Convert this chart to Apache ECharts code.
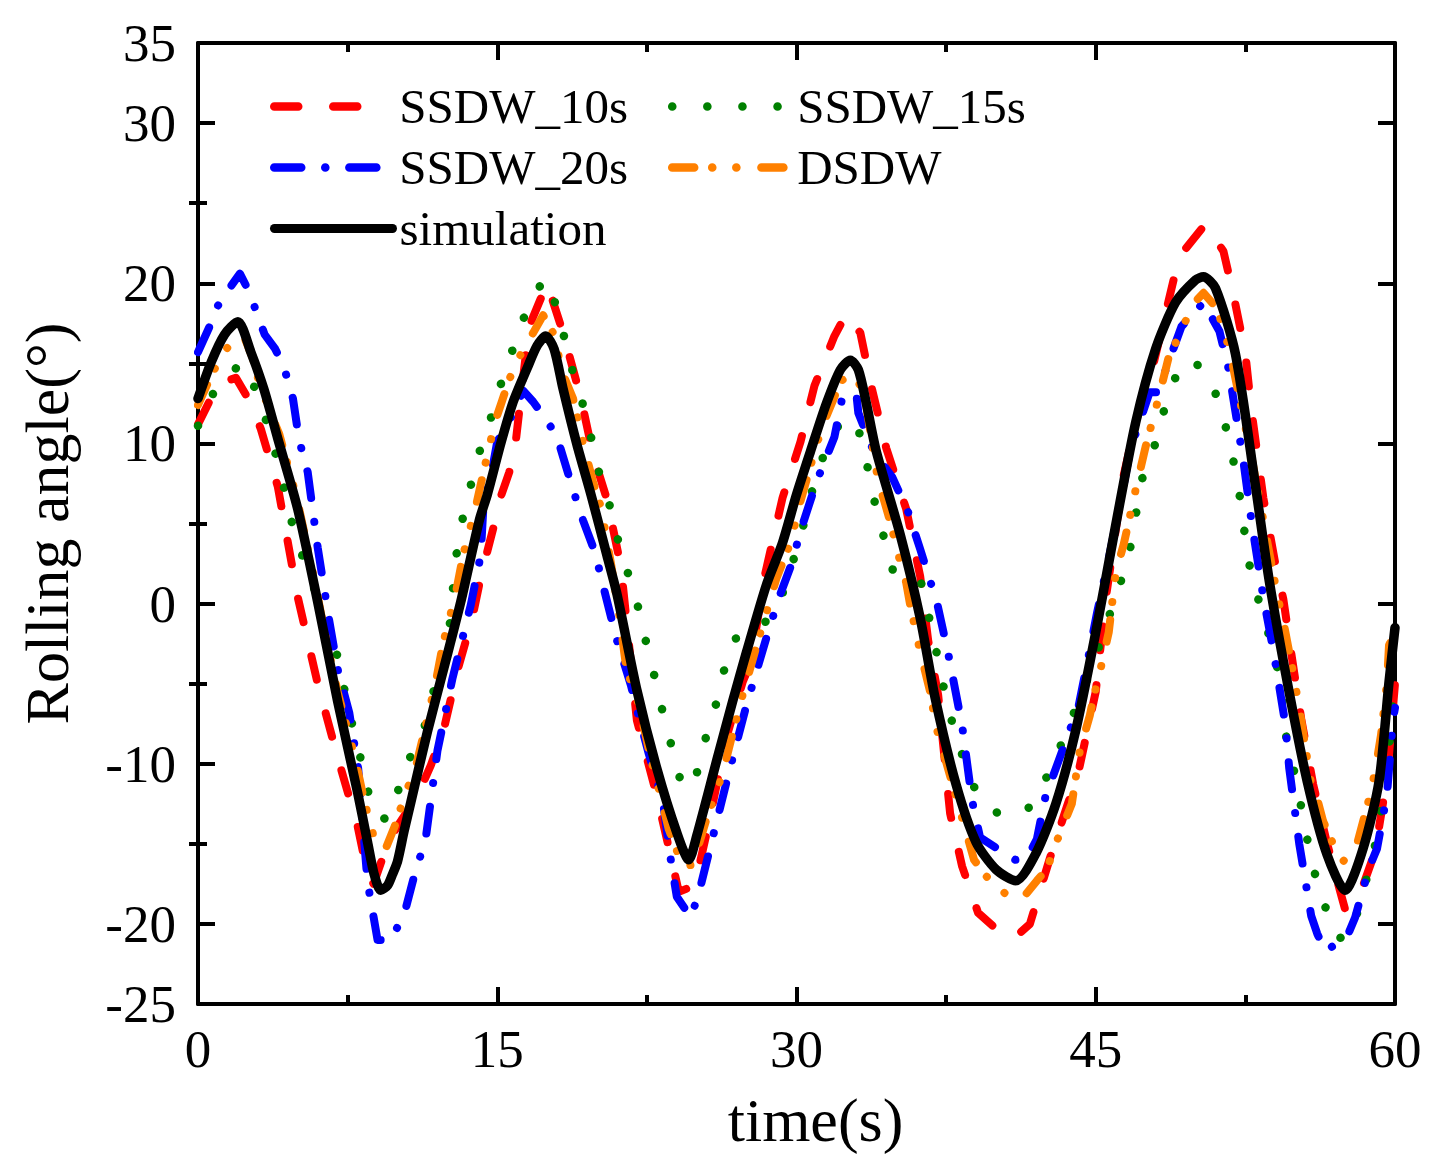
<!DOCTYPE html>
<html>
<head>
<meta charset="utf-8">
<script src="https://cdn.jsdelivr.net/npm/echarts@6/dist/echarts.min.js"></script>
<style>
html,body{margin:0;padding:0;background:#fff;}
#chart{width:1439px;height:1172px;}
</style>
</head>
<body>
<div id="chart"></div>
<script>
// ---- data (time s, rolling angle deg) ----
const xTickValues = [0, 15, 30, 45, 60];
const yLabelValues = [-25, -20, -10, 0, 10, 20, 30, 35];
const yMajorTicks = [-20, -10, 0, 10, 20, 30];
const yMinorTicks = [-15, -5, 5, 15, 25];
const seriesNames = ['SSDW_10s', 'SSDW_15s', 'SSDW_20s', 'DSDW', 'simulation'];

const ssdw10 = [[0,11.2],[0.4,12.2],[1,13.7],[1.9,14.1],[2.65,12.5],[3.15,10.9],[4,7.3],[5,0.4],[6,-5.0],[7,-9.6],[8,-13.9],[8.5,-16.9],[8.8,-17.5],[9.5,-15.0],[10,-13.9],[11,-12.0],[11.67,-10.1],[12.33,-7.8],[13,-4.2],[13.75,-0.9],[14.2,1.8],[14.8,4.7],[15.1,6.4],[15.6,8.2],[15.9,9.8],[16.2,13.1],[16.6,17.3],[17.5,20.0],[18.3,16.9],[19.2,12.8],[19.8,9.3],[20.5,6.5],[21.2,2.3],[22,-7.3],[23,-12.0],[23.85,-16.6],[24.1,-18.0],[24.9,-17.6],[25.5,-14.3],[26.5,-8.3],[27.3,-4.9],[27.7,-3.7],[28.4,1.7],[29.3,6.6],[30.2,10.1],[30.9,13.6],[31.9,16.7],[32.5,18.1],[33.2,16.9],[33.8,13.3],[34.5,9.7],[35.5,5.9],[36.2,1.7],[36.6,-2.3],[37.1,-5.7],[37.7,-13.1],[38.3,-16.4],[39.1,-19.3],[40,-20.3],[40.9,-20.9],[41.7,-20.0],[42.7,-15.9],[43.6,-12.5],[44.1,-10.7],[45,-5.5],[45.5,0.3],[46.4,8.0],[47,11.3],[47.9,15.0],[48.9,20.2],[49.4,22.0],[50.5,23.7],[51.4,22.0],[51.9,19.3],[52.5,15.6],[52.8,12.1],[53.4,6.6],[54,2.5],[54.4,0.3],[54.8,-3.1],[55.3,-7.2],[55.9,-11.3],[56.6,-15.0],[57.5,-19.1],[58.2,-18.3],[59,-15.5],[59.6,-10.9],[60,-5.0]];

const ssdw15 = [[0,11.1],[0.65,12.9],[1.4,14.3],[2.3,15.0],[2.9,13.3],[3.45,11.3],[3.9,9.3],[4.3,7.3],[4.7,5.1],[5.2,3.1],[6.24,-0.5],[6.9,-2.8],[7.58,-6.8],[8,-8.9],[8.41,-11.0],[8.75,-13.1],[9.5,-13.5],[10.08,-11.5],[10.5,-9.9],[11.25,-8.2],[11.7,-6.0],[12.6,-1.6],[12.9,2.6],[13.17,4.8],[13.6,7.0],[14,9.1],[14.6,11.2],[15,13.1],[15.6,15.1],[16,16.9],[16.6,18.6],[17.35,20.3],[18,18.5],[18.4,16.4],[18.8,14.4],[19.3,12.4],[19.7,10.4],[20.1,8.2],[20.6,6.3],[21,4.2],[21.5,2.1],[22,0.1],[22.4,-2.1],[22.8,-4.1],[23.2,-6.3],[23.9,-9.7],[24.3,-11.6],[25,-10.6],[25.4,-8.6],[25.9,-6.6],[26.3,-4.6],[26.6,-2.7],[27.3,-1.7],[28.3,-1.3],[29,-0.5],[30.1,3.7],[30.9,7.6],[31.4,9.4],[32,11.0],[32.9,11.6],[33.4,9.7],[33.7,7.5],[34.1,5.4],[34.5,3.6],[35,1.3],[35.6,0.6],[36.1,2.1],[36.5,-0.1],[36.9,-2.2],[37.2,-4.3],[37.6,-6.4],[38,-8.4],[39.1,-12.1],[40.2,-13.2],[41.5,-13.0],[42.3,-11.5],[42.9,-9.8],[43.6,-7.9],[44.2,-5.8],[44.7,-4.4],[46.5,2.3],[46.9,4.4],[47.2,7.4],[47.9,9.6],[48.3,11.6],[49.1,14.5],[49.7,15.3],[50.6,14.4],[51.2,12.5],[51.65,10.4],[52,8.3],[52.3,6.1],[52.5,4.0],[52.8,1.7],[53.07,0.6],[54,-3.3],[54.3,-5.5],[54.6,-8.9],[55.1,-11.2],[55.4,-13.5],[55.9,-16.5],[56.4,-18.6],[57.1,-20.8],[57.6,-21.0],[58.2,-19.0],[59.1,-14.6],[59.6,-10.3],[59.9,-6.1],[60,-5.5]];

const ssdw20 = [[0,15.7],[0.58,17.3],[0.8,18.2],[1.3,19.2],[2.1,20.6],[2.55,19.5],[3.34,16.8],[3.87,15.9],[4.3,14.8],[4.76,12.8],[5.07,10.2],[5.5,8.2],[6,3.5],[6.57,-1.0],[7,-4.1],[7.58,-6.8],[8.03,-10.3],[8.5,-17.4],[9,-21.0],[9.7,-21.0],[10.4,-19.1],[10.9,-16.7],[11.4,-14.8],[12,-9.2],[12.75,-4.7],[13.67,-0.1],[14.17,3.0],[14.3,5.9],[14.75,8.4],[15,10.1],[15.6,11.4],[16.3,13.3],[16.8,12.6],[17.5,11.4],[18,10.4],[18.8,7.1],[19.3,5.2],[19.9,3.2],[20.35,0.9],[21,-2.3],[21.7,-5.1],[22,-6.6],[22.6,-9.4],[23.3,-12.3],[23.7,-16.0],[24,-18.3],[24.7,-19.6],[25.1,-18.1],[25.7,-15.1],[26.6,-10.6],[27.5,-6.3],[28.5,-2.1],[29.1,0.3],[29.7,2.3],[30.3,4.9],[31,7.6],[31.9,10.4],[32.3,12.9],[33,13.1],[33.1,11.9],[33.9,9.4],[34.8,7.9],[35.6,5.7],[36.2,3.4],[36.7,1.4],[37,0.3],[37.6,-3.1],[38.3,-7.6],[38.8,-12.3],[39.2,-14.6],[40.2,-15.4],[40.97,-16.0],[41.55,-15.9],[42.05,-14.7],[42.47,-12.1],[44.14,-6.4],[44.56,-3.8],[45.06,-0.6],[45.65,2.8],[46.4,7.4],[46.73,9.6],[47.7,13.2],[48.1,13.2],[49.3,17.3],[50.4,18.8],[51.2,17.0],[51.65,14.7],[52.4,8.9],[52.8,5.2],[53.4,0.4],[53.9,-2.9],[54.5,-7.5],[54.7,-10.3],[55.2,-15.0],[55.8,-19.5],[56.1,-20.6],[56.5,-21.7],[57.6,-20.8],[58,-19.6],[58.7,-16.5],[59.1,-15.3],[59.6,-11.9],[59.9,-7.2],[60,-6.5]];

const dsdw = [[0,12.4],[0.65,14.2],[1.1,15.3],[1.6,16.2],[2.3,16.7],[2.75,15.3],[3,14.1],[3.6,12.0],[4.07,10.6],[4.99,6.4],[5.9,1.1],[6.3,-1.5],[7,-5.5],[7.9,-9.8],[8.33,-12.3],[8.9,-15.0],[9.41,-15.3],[9.86,-13.9],[10.5,-11.5],[10.8,-10.8],[11.4,-7.7],[11.9,-5.0],[12.3,-2.4],[12.9,0.5],[13.3,3.1],[13.9,5.9],[14.4,8.7],[14.9,11.4],[15.2,12.5],[15.6,14.0],[16.3,15.9],[16.8,16.9],[17.3,18.0],[17.8,16.9],[18.3,14.3],[18.8,12.8],[19.3,10.0],[19.8,7.6],[20.2,6.0],[20.7,2.5],[21.1,-0.6],[21.5,-4.3],[21.9,-5.4],[22.2,-6.9],[22.7,-9.7],[23,-11.1],[23.6,-14.1],[24.3,-16.4],[24.8,-16.3],[25.5,-13.4],[26.3,-10.6],[26.7,-8.6],[27.3,-5.7],[28.1,-2.2],[29,1.6],[29.7,3.8],[30.2,6.4],[30.5,7.7],[31,9.9],[31.4,11.4],[31.9,12.9],[32.2,13.9],[32.9,14.3],[33.4,13.1],[34.1,7.6],[34.4,6.4],[34.7,5.1],[35.2,2.6],[35.5,1.3],[35.7,-0.1],[36.2,-3.0],[36.7,-5.5],[37,-7.7],[38.9,-16.0],[39.5,-17.0],[40,-17.7],[40.7,-18.3],[41.4,-18.3],[42.05,-17.3],[42.6,-16.5],[42.8,-15.6],[43.8,-12.5],[44.2,-9.2],[44.7,-7.0],[44.9,-5.8],[45.2,-4.3],[45.65,-1.8],[46,1.9],[46.4,3.7],[46.6,4.8],[47.05,7.4],[47.5,9.8],[48.1,12.6],[48.7,15.6],[49.1,16.5],[49.7,18.2],[50.1,19.0],[50.4,19.4],[51.1,18.4],[51.4,17.1],[51.7,15.9],[52.8,9.2],[54.1,0.5],[54.4,-1.1],[54.8,-3.7],[55.2,-6.5],[55.8,-11.3],[56.1,-12.2],[56.4,-13.6],[57,-15.3],[57.4,-16.1],[58.1,-15.0],[58.7,-12.2],[59,-10.5],[59.3,-8.2],[59.6,-4.9],[59.7,-2.6],[60,-1.8]];

const simulation = [[0,12.8],[0.67,15.1],[1.33,16.8],[2,17.6],[2.65,15.7],[3.3,13.4],[4,10.3],[5,5.9],[6,0.1],[7,-6.1],[8,-11.8],[8.5,-14.9],[8.83,-16.9],[9.16,-17.9],[9.5,-17.6],[9.75,-16.9],[10,-16.1],[10.33,-14.2],[10.67,-12.4],[11.5,-8.0],[12.33,-4.0],[13.17,0.1],[14.1,5.2],[14.5,6.8],[15.2,10.1],[15.8,12.6],[16.5,14.7],[17,16.1],[17.43,16.7],[17.85,15.9],[18.3,13.4],[19,9.9],[19.7,6.8],[20.5,3.0],[21,0.6],[22,-5.4],[23,-10.3],[24,-14.3],[24.6,-16.0],[25,-14.5],[26,-9.8],[26.8,-6.1],[27.5,-3.0],[28.5,1.2],[29.3,3.8],[30,6.8],[30.7,9.5],[31.5,12.5],[32.2,14.6],[32.7,15.2],[33.1,14.6],[33.5,12.5],[34,9.5],[35.2,4.3],[36.2,-0.9],[36.95,-5.9],[38,-11.3],[39,-14.9],[40,-16.6],[41,-17.3],[42,-15.6],[43,-12.5],[44,-7.9],[45,-1.8],[46,4.9],[47,11.3],[48,15.9],[49,18.8],[50,20.2],[50.4,20.4],[51,19.7],[52,15.6],[53,7.4],[53.7,1.4],[54.6,-4.9],[55.6,-11.1],[56.6,-15.7],[57.5,-17.9],[58.4,-15.3],[59.2,-11.1],[59.7,-4.9],[60,-1.5]];

// ---- styling ----
const FONT = '"Liberation Serif", "Times New Roman", Times, serif';
const AXIS_COLOR = '#000';
const lineW = 8;

const axisLineStyle = { show: true, onZero: false, lineStyle: { color: AXIS_COLOR, width: 4 } };
const majorTick = { show: true, inside: true, length: 17, lineStyle: { color: AXIS_COLOR, width: 4 } };
const minorTickStyle = { show: true, splitNumber: 2, length: 9, lineStyle: { color: AXIS_COLOR, width: 4 } };

function mkSeries(name, data, color, width, dash, extra) {
  return Object.assign({
    name: name,
    type: 'line',
    data: data,
    xAxisIndex: 0,
    yAxisIndex: 0,
    symbol: 'none',
    showSymbol: false,
    animation: false,
    emphasis: { disabled: true },
    itemStyle: { color: color },
    lineStyle: { color: color, width: width, type: dash, cap: 'round', join: 'round' }
  }, extra || {});
}

const legendCommon = {
  orient: 'horizontal',
  left: 270,
  padding: 0,
  itemWidth: 118,
  itemHeight: 14,
  itemGap: 40,
  selectedMode: false,
  itemStyle: { opacity: 0, color: 'rgba(0,0,0,0)', borderWidth: 0 },
  lineStyle: { width: 8.5 },
  textStyle: { fontSize: 49, fontFamily: FONT, color: '#000', padding: [0, 0, 0, 2] }
};

const chart = echarts.init(document.getElementById('chart'), null, { renderer: 'svg' });

const yBase = { type: 'value', min: -25, max: 35, interval: 5, splitLine: { show: false } };
const xBase = { type: 'value', min: 0, max: 60, interval: 15, splitLine: { show: false } };

chart.setOption({
  animation: false,
  backgroundColor: '#fff',
  grid: { left: 198, right: 44, top: 43, bottom: 168, containLabel: false },
  xAxis: [
    Object.assign({}, xBase, {
      position: 'bottom',
      axisLine: axisLineStyle,
      axisTick: majorTick,
      minorTick: minorTickStyle,
      axisLabel: { customValues: xTickValues, fontSize: 53, fontFamily: FONT, color: '#000', margin: 18 },
      name: 'time(s)',
      nameLocation: 'middle',
      nameGap: 85,
      nameTextStyle: { fontSize: 62, fontFamily: FONT, color: '#000', padding: [0, 0, 0, 38] }
    }),
    Object.assign({}, xBase, {
      position: 'top',
      axisLine: axisLineStyle,
      axisTick: majorTick,
      minorTick: minorTickStyle,
      axisLabel: { show: false }
    })
  ],
  yAxis: [
    Object.assign({}, yBase, {
      position: 'left',
      axisLine: axisLineStyle,
      axisTick: Object.assign({}, majorTick, { customValues: yMajorTicks }),
      axisLabel: { customValues: yLabelValues, fontSize: 53, fontFamily: FONT, color: '#000', margin: 22 },
      name: 'Rolling angle(°)',
      nameLocation: 'middle',
      nameGap: 120,
      nameTextStyle: { fontSize: 62, fontFamily: FONT, color: '#000' }
    }),
    Object.assign({}, yBase, {
      position: 'left',
      axisLine: { show: false },
      axisTick: { show: true, inside: true, length: 9, customValues: yMinorTicks, lineStyle: { color: AXIS_COLOR, width: 4 } },
      axisLabel: { show: false }
    }),
    Object.assign({}, yBase, {
      position: 'right',
      axisLine: axisLineStyle,
      axisTick: Object.assign({}, majorTick, { customValues: yMajorTicks }),
      axisLabel: { show: false }
    }),
    Object.assign({}, yBase, {
      position: 'right',
      axisLine: { show: false },
      axisTick: { show: true, inside: true, length: 9, customValues: yMinorTicks, lineStyle: { color: AXIS_COLOR, width: 4 } },
      axisLabel: { show: false }
    })
  ],
  legend: [
    Object.assign({}, legendCommon, { top: 82, data: [seriesNames[0], seriesNames[1]] }),
    Object.assign({}, legendCommon, { top: 143, data: [seriesNames[2], seriesNames[3]] }),
    Object.assign({}, legendCommon, { top: 204, data: [{ name: seriesNames[4], lineStyle: { width: 9 } }] })
  ],
  series: [
    mkSeries(seriesNames[0], ssdw10, '#FF0000', lineW, [24, 35]),
    mkSeries(seriesNames[1], ssdw15, '#008000', 8.5, [0.1, 35]),
    mkSeries(seriesNames[2], ssdw20, '#0000FF', lineW, [27, 24, 0.1, 24]),
    mkSeries(seriesNames[3], dsdw, '#FF8000', lineW, [22, 18, 0.1, 24, 0.1, 25]),
    mkSeries(seriesNames[4], simulation, '#000000', 9.5, 'solid', { smooth: 0.25 })
  ]
});
</script>
</body>
</html>
